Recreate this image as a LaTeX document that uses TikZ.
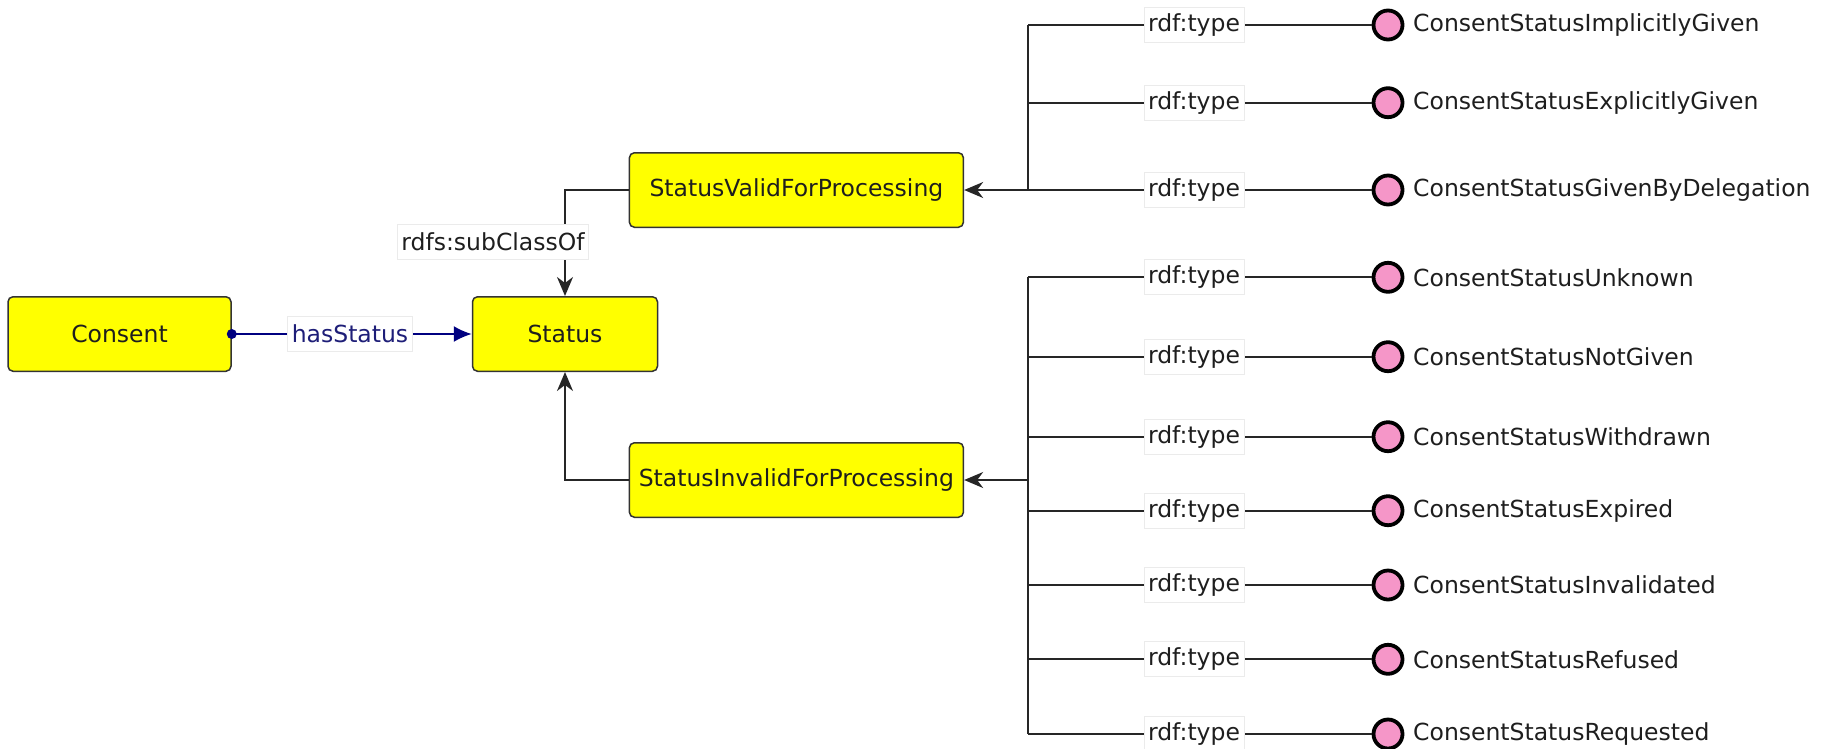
\documentclass[tikz,border=0pt]{standalone}
\usepackage{fontspec}
\setmainfont{DejaVu Sans}
\usetikzlibrary{arrows.meta}
\definecolor{boxyellow}{RGB}{255,255,0}
\definecolor{inspink}{RGB}{245,150,200}
\definecolor{navyline}{RGB}{0,0,128}
\definecolor{navytext}{RGB}{30,30,120}
\definecolor{txt}{RGB}{30,30,30}
\begin{document}
\begin{tikzpicture}[x=1pt,y=-1pt,
  font=\fontsize{23.5}{28}\selectfont,
  cls/.style={draw=black!80, line width=1.5pt, fill=boxyellow, rounded corners=5pt,
    minimum height=74.5pt, inner sep=0pt, text=txt},
  inst/.style={circle, draw=black, line width=3.8pt, fill=inspink, minimum size=29pt, inner sep=0pt},
  iname/.style={anchor=west, inner sep=0pt, text=txt},
  elabel/.style={fill=white, draw=black!8, line width=0.8pt, inner sep=4pt, text=txt, minimum height=35pt},
  conn/.style={draw=black!85, line width=1.8pt},
  sub/.style={conn, -{Stealth[length=19pt,width=16pt,inset=6pt]}},
]
\useasboundingbox (0,0) rectangle (1831,748);

% classes
\node[cls, minimum width=223pt] (consent) at (119.5,334) {Consent};
\node[cls, minimum width=185pt] (status) at (565,334) {Status};
\node[cls, minimum width=334pt] (valid) at (796.4,190) {StatusValidForProcessing};
\node[cls, minimum width=334pt] (invalid) at (796.4,480) {StatusInvalidForProcessing};

% hasStatus
\draw[navyline, line width=1.8pt, -{Latex[length=18pt,width=16pt]}] (consent.east) -- (status.west);
\fill[navyline] (consent.east) circle (5pt);

% subclass edges
\draw[sub] (valid.west) -| (status.north);
\draw[sub] (invalid.west) -| (status.south);

% instances
\coordinate (tv) at (1027.6,0);
\foreach \n/\y/\t in {v1/25/ConsentStatusImplicitlyGiven,
                      v2/102.7/ConsentStatusExplicitlyGiven,
                      v3/190/ConsentStatusGivenByDelegation,
                      i1/277.3/ConsentStatusUnknown,
                      i2/356.7/ConsentStatusNotGiven,
                      i3/436.7/ConsentStatusWithdrawn,
                      i4/510.7/ConsentStatusExpired,
                      i5/585/ConsentStatusInvalidated,
                      i6/659.3/ConsentStatusRefused,
                      i7/734/ConsentStatusRequested} {
  \node[inst] (c\n) at (1388,\y) {};
  \node[iname] (t\n) at (1413,\y) {\t};
  \draw[conn] (c\n.west) -- (c\n.west -| tv);
}

% trunks
\draw[conn] (tv |- cv1) -- (tv |- cv3);
\draw[sub] (tv |- valid) -- (valid.east);
\draw[conn] (tv |- ci1) -- (tv |- ci7);
\draw[sub] (tv |- invalid) -- (invalid.east);

% edge labels
\node[elabel, text=navytext] (hs) at (350,334) {hasStatus};
\node[elabel] (sc) at (493,242) {rdfs:subClassOf};
\foreach \n/\y in {v1/25, v2/102.7, v3/190, i1/277.3, i2/356.7, i3/436.7,
                   i4/510.7, i5/585, i6/659.3, i7/734} {
  \node[elabel] (l\n) at (1194,\y) {rdf:type};
}
\end{tikzpicture}
\end{document}
